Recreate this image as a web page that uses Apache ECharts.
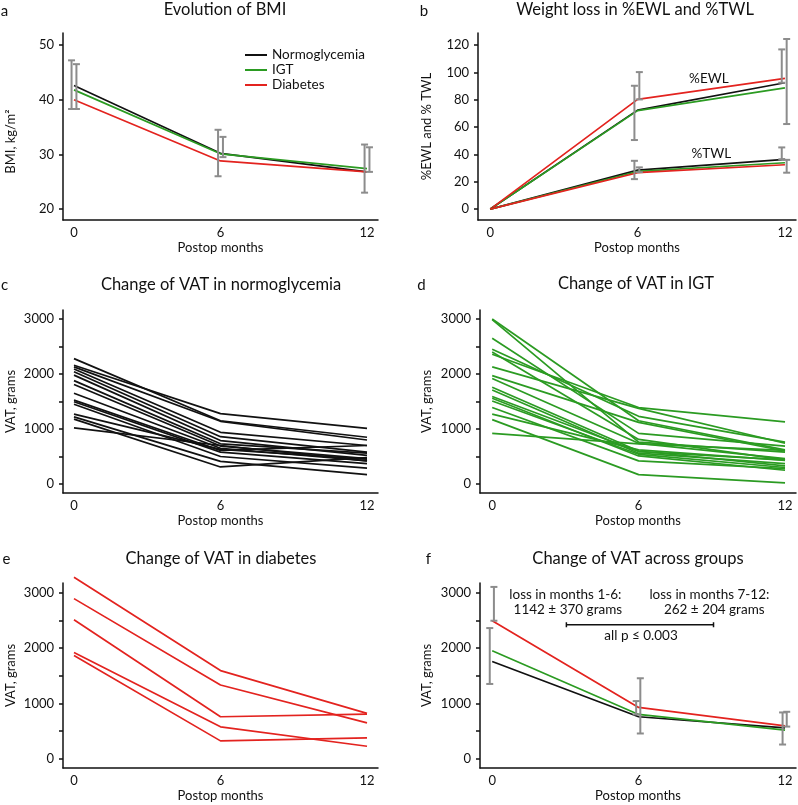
<!DOCTYPE html>
<html>
<head>
<meta charset="UTF-8">
<title>BMI, weight loss and VAT after surgery</title>
<script src="https://cdn.jsdelivr.net/npm/echarts@6/dist/echarts.min.js"></script>
<style>
  html, body { margin: 0; padding: 0; background: #fff; }
  #chart { width: 798px; height: 805px; }
</style>
</head>
<body>
<div id="chart"></div>
<script>
// time points and groups
var months = [0, 6, 12];
var groups = ['Normoglycemia', 'IGT', 'Diabetes'];

// a: mean BMI per group
var bmiNormo = [42.6, 30.2, 26.8];
var bmiIgt = [41.8, 30.1, 27.4];
var bmiDiab = [40.0, 28.8, 26.8];
// error bars: [month, low, high]
var bmiErrLeft = [[0, 38.3, 47.2], [6, 26.0, 34.5], [12, 23.0, 31.8]];
var bmiErrRight = [[0, 38.3, 46.5], [6, 29.5, 33.2], [12, 26.8, 31.3]];

// b: %EWL and %TWL per group
var ewlNormo = [0, 72.4, 92.4];
var ewlIgt = [0, 72.0, 88.7];
var ewlDiab = [0, 80.2, 95.6];
var twlNormo = [0, 28.5, 36.4];
var twlIgt = [0, 27.5, 33.9];
var twlDiab = [0, 26.6, 32.4];
var ewlErrLeft = [[6, 50.5, 90.2], [12, 92.4, 116.8]];
var ewlErrRight = [[6, 80.2, 100.2], [12, 62.2, 124.4]];
var twlErrLeft = [[6, 21.9, 35.3], [12, 36.4, 45.1]];
var twlErrRight = [[6, 27.0, 30.5], [12, 26.6, 36.0]];
var curveLabels = [['%EWL', 8.9, 95.6], ['%TWL', 9.0, 40.2]];

// c, d, e: VAT of each patient at 0, 6, 12 months (grams)
var vatNormo = [
  [2280, 1150, 850], [2160, 1280, 1010], [2130, 1140, 800], [2090, 940, 700],
  [2040, 860, 580], [1980, 790, 520], [1880, 730, 560], [1810, 690, 460],
  [1650, 650, 420], [1525, 610, 700], [1495, 580, 370], [1450, 500, 290],
  [1270, 630, 450], [1220, 410, 170], [1180, 310, 480], [1020, 700, 420]
];
var vatIgt = [
  [3000, 1150, 620], [2990, 760, 580], [2650, 920, 690], [2450, 1230, 760],
  [2400, 810, 440], [2360, 1390, 1130], [2130, 1375, 740], [1970, 1120, 600],
  [1920, 740, 460], [1760, 600, 330], [1710, 560, 370], [1590, 590, 440],
  [1560, 510, 250], [1510, 540, 300], [1390, 420, 280], [1270, 620, 430],
  [1170, 170, 20], [920, 730, 610]
];
var vatDiab = [
  [3285, 1594, 818], [2897, 1333, 648], [2515, 758, 806],
  [1921, 576, 224], [1867, 321, 376]
];

// f: mean VAT per group
var vatMeanNormo = [1758, 758, 558];
var vatMeanIgt = [1952, 800, 515];
var vatMeanDiab = [2497, 927, 594];
var vatErrLeft = [[0, 1352, 2364], [6, 800, 1042], [12, 255, 836]];
var vatErrRight = [[0, 2497, 3109], [6, 455, 1455], [12, 580, 848]];
var vatNotes = [
  ['loss in months 1-6:', 3.0, 2969], ['1142 ± 370 grams', 3.1, 2696],
  ['loss in months 7-12:', 8.9, 2969], ['262 ± 204 grams', 9.1, 2696],
  ['all p ≤ 0.003', 6.1, 2224]
];
var bracket = [3.04, 9.07, 2424];

var BLACK = '#111111', GREEN = '#2b9b22', RED = '#e3231f', GREY = '#8c8c8c';
var FONT = 'Lato';

var chart = echarts.init(document.getElementById('chart'));

var gridBoxes = [
  {left: 63, top: 33, width: 315, height: 187},
  {left: 478, top: 33, width: 318, height: 187},
  {left: 63, top: 310, width: 315, height: 183},
  {left: 480, top: 310, width: 316, height: 183},
  {left: 63, top: 583, width: 315, height: 185},
  {left: 480, top: 583, width: 316, height: 185}
];
var yRanges = [[18, 52.2], [-8, 128.8], [-164, 3164], [-164, 3164], [-170, 3180], [-170, 3180]];
var yTicks = [
  [20, 30, 40, 50],
  [0, 20, 40, 60, 80, 100, 120],
  [0, 500, 1000, 1500, 2000, 2500, 3000],
  [0, 500, 1000, 1500, 2000, 2500, 3000],
  [0, 500, 1000, 1500, 2000, 2500, 3000],
  [0, 500, 1000, 1500, 2000, 2500, 3000]
];
var yLabels = [
  [20, 30, 40, 50],
  [0, 20, 40, 60, 80, 100, 120],
  [0, 1000, 2000, 3000], [0, 1000, 2000, 3000], [0, 1000, 2000, 3000], [0, 1000, 2000, 3000]
];
var yNames = ['BMI, kg/m²', '%EWL and % TWL', 'VAT, grams', 'VAT, grams', 'VAT, grams', 'VAT, grams'];
var yNameGaps = [46, 45, 46, 47, 46, 47];

var axisLine = {show: true, onZero: false, lineStyle: {color: BLACK, width: 1.5}};
var plain = function (v) { return String(v); };
var xAxes = [], yAxes = [];
gridBoxes.forEach(function (g, i) {
  var leftCol = i % 2 === 0;
  xAxes.push({
    type: 'value', gridIndex: i, min: leftCol ? -0.45 : -0.5, max: 12.45,
    axisLine: axisLine, axisTick: {show: false}, splitLine: {show: false},
    axisLabel: {customValues: months, formatter: plain, fontSize: 13, color: BLACK, fontFamily: FONT, margin: 6},
    name: 'Postop months', nameLocation: 'middle', nameGap: 21,
    nameTextStyle: {fontSize: 13, color: BLACK, fontFamily: FONT}
  });
  yAxes.push({
    type: 'value', gridIndex: i, min: yRanges[i][0], max: yRanges[i][1],
    axisLine: axisLine, splitLine: {show: false},
    axisTick: {show: true, customValues: yTicks[i], length: 4, lineStyle: {color: BLACK, width: 1.5}},
    axisLabel: {customValues: yLabels[i], formatter: plain, fontSize: 13, color: BLACK, fontFamily: FONT, margin: 9},
    name: yNames[i], nameLocation: 'middle', nameGap: yNameGaps[i],
    nameTextStyle: {fontSize: 13, color: BLACK, fontFamily: FONT,
      padding: i === 0 ? [0, 30, 0, 0] : 0}
  });
});

function lineSeries(idx, name, values, color) {
  return {
    type: 'line', name: name, xAxisIndex: idx, yAxisIndex: idx,
    data: months.map(function (m, k) { return [m, values[k]]; }),
    symbol: 'none', clip: false, silent: true, z: 2,
    lineStyle: {color: color, width: 1.7}, itemStyle: {color: color}
  };
}

function errorSeries(idx, data, shift) {
  return {
    type: 'custom', xAxisIndex: idx, yAxisIndex: idx, silent: true, z: 3,
    data: data, encode: {x: 0, y: [1, 2]},
    renderItem: function (params, api) {
      var x = api.value(0) + shift;
      var lo = api.coord([x, api.value(1)]);
      var hi = api.coord([x, api.value(2)]);
      var cap = 3.5;
      var st = {stroke: GREY, lineWidth: 2};
      return {type: 'group', children: [
        {type: 'line', shape: {x1: lo[0], y1: lo[1], x2: hi[0], y2: hi[1]}, style: st},
        {type: 'line', shape: {x1: lo[0] - cap, y1: lo[1], x2: lo[0] + cap, y2: lo[1]}, style: st},
        {type: 'line', shape: {x1: hi[0] - cap, y1: hi[1], x2: hi[0] + cap, y2: hi[1]}, style: st}
      ]};
    }
  };
}

function textSeries(idx, items) {
  return {
    type: 'scatter', xAxisIndex: idx, yAxisIndex: idx, silent: true, symbolSize: 0,
    itemStyle: {opacity: 1},
    data: items.map(function (t) { return {name: t[0], value: [t[1], t[2]]}; }),
    label: {show: true, position: 'inside', formatter: '{b}', fontSize: 13.5,
      color: BLACK, fontFamily: FONT}
  };
}

var series = [];
// a
series.push(lineSeries(0, groups[0], bmiNormo, BLACK));
series.push(lineSeries(0, groups[1], bmiIgt, GREEN));
series.push(lineSeries(0, groups[2], bmiDiab, RED));
series.push(errorSeries(0, bmiErrLeft, -0.1));
series.push(errorSeries(0, bmiErrRight, 0.1));
// b
series.push(lineSeries(1, groups[0], ewlNormo, BLACK));
series.push(lineSeries(1, groups[1], ewlIgt, GREEN));
series.push(lineSeries(1, groups[2], ewlDiab, RED));
series.push(lineSeries(1, groups[0], twlNormo, BLACK));
series.push(lineSeries(1, groups[1], twlIgt, GREEN));
series.push(lineSeries(1, groups[2], twlDiab, RED));
series.push(errorSeries(1, ewlErrLeft, -0.13));
series.push(errorSeries(1, ewlErrRight, 0.07));
series.push(errorSeries(1, twlErrLeft, -0.13));
series.push(errorSeries(1, twlErrRight, 0.07));
series.push(textSeries(1, curveLabels));
// c, d, e
vatNormo.forEach(function (row) { series.push(lineSeries(2, null, row, BLACK)); });
vatIgt.forEach(function (row) { series.push(lineSeries(3, null, row, GREEN)); });
vatDiab.forEach(function (row) { series.push(lineSeries(4, null, row, RED)); });
// f
series.push(lineSeries(5, groups[0], vatMeanNormo, BLACK));
series.push(lineSeries(5, groups[1], vatMeanIgt, GREEN));
series.push(lineSeries(5, groups[2], vatMeanDiab, RED));
series.push(errorSeries(5, vatErrLeft, -0.1));
series.push(errorSeries(5, vatErrRight, 0.07));
series.push(textSeries(5, vatNotes));
series.push({
  type: 'line', xAxisIndex: 5, yAxisIndex: 5, symbol: 'none', silent: true,
  data: [[bracket[0], bracket[2] - 45], [bracket[0], bracket[2] + 45], [bracket[0], bracket[2]],
         [bracket[1], bracket[2]], [bracket[1], bracket[2] + 45], [bracket[1], bracket[2] - 45]],
  lineStyle: {color: BLACK, width: 1.5}
});

// panel titles and letters
var titles = [
  ['a', 4.5, 11, 'Evolution of BMI', 225, 10],
  ['b', 424, 11, 'Weight loss in %EWL and %TWL', 635, 10],
  ['c', 4.5, 285, 'Change of VAT in normoglycemia', 221, 285],
  ['d', 421.5, 285, 'Change of VAT in IGT', 636, 284],
  ['e', 6.5, 559, 'Change of VAT in diabetes', 221, 559],
  ['f', 428.5, 559, 'Change of VAT across groups', 638, 559]
];
var graphics = [];
titles.forEach(function (t) {
  graphics.push({type: 'text', x: t[1], y: t[2], silent: true,
    style: {text: t[0], align: 'center', verticalAlign: 'middle', font: '15px ' + FONT, fill: BLACK}});
  graphics.push({type: 'text', x: t[4], y: t[5], silent: true,
    style: {text: t[3], align: 'center', verticalAlign: 'middle', font: '16.5px ' + FONT, fill: BLACK}});
});

chart.setOption({
  animation: false,
  backgroundColor: '#fff',
  textStyle: {fontFamily: FONT},
  grid: gridBoxes.map(function (g) {
    return {left: g.left, top: g.top, width: g.width, height: g.height, outerBoundsMode: 'none'};
  }),
  xAxis: xAxes,
  yAxis: yAxes,
  legend: {
    data: groups, orient: 'vertical', left: 240, top: 43,
    icon: 'rect', itemWidth: 22, itemHeight: 2, itemGap: 1, selectedMode: false,
    textStyle: {fontSize: 13.5, color: BLACK, fontFamily: FONT}
  },
  graphic: graphics,
  series: series
});
</script>
</body>
</html>
